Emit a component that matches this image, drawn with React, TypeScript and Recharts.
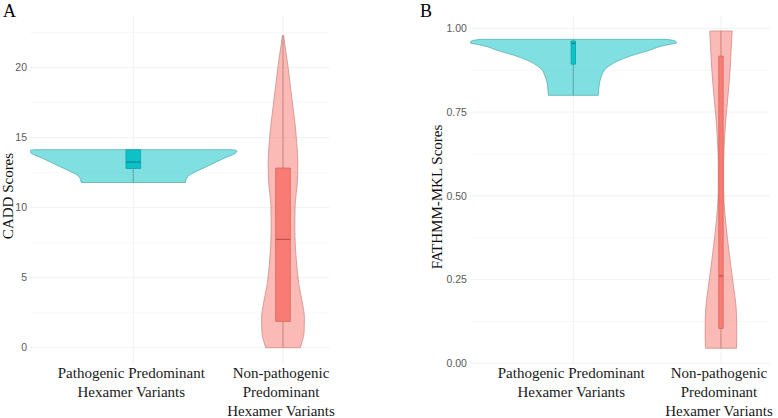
import { ComposedChart, Area, Line, XAxis, YAxis, CartesianGrid } from 'recharts';

// categories (x positions 1 and 2)
const categoryPositions = [1, 2];
const categoryLabels = [
  ['Pathogenic Predominant', 'Hexamer Variants'],
  ['Non-pathogenic', 'Predominant', 'Hexamer Variants'],
];

// violin profiles: [score, half width in category units]
const caddPathogenic = [
  [11.8, 0.349], [12.0, 0.352], [12.2, 0.362], [12.4, 0.385], [12.6, 0.423],
  [13.0, 0.502], [13.5, 0.6], [13.95, 0.688], [14.02, 0.692], [14.1, 0.685], [14.14, 0.66],
];
const caddNonPathogenic = [
  [0, 0.115], [0.43, 0.128], [1.14, 0.141], [2.1, 0.143], [3.3, 0.128], [4.5, 0.106],
  [5.9, 0.092], [7.36, 0.082], [8.8, 0.079], [10.2, 0.081], [11.7, 0.095], [13.1, 0.099],
  [14.5, 0.093], [15.9, 0.081], [17.4, 0.064], [18.8, 0.048], [20.2, 0.032], [21.6, 0.013],
  [22.3, 0.004],
];
const fathmmPathogenic = [
  [0.8, 0.169], [0.826, 0.174], [0.856, 0.19], [0.881, 0.223], [0.9, 0.29], [0.92, 0.405],
  [0.935, 0.52], [0.946, 0.59], [0.951, 0.64], [0.957, 0.7], [0.963, 0.685], [0.967, 0.63],
];
const fathmmNonPathogenic = [
  [0.045, 0.105], [0.075, 0.107], [0.114, 0.107], [0.174, 0.101], [0.234, 0.084],
  [0.293, 0.066], [0.353, 0.049], [0.413, 0.034], [0.473, 0.022], [0.532, 0.018],
  [0.592, 0.018], [0.652, 0.022], [0.711, 0.03], [0.771, 0.042], [0.831, 0.054],
  [0.89, 0.064], [0.95, 0.071], [0.992, 0.076],
];

// box stats per category: [pathogenic, non-pathogenic]
const caddMin = [11.8, 0];
const caddQ1 = [12.8, 1.88];
const caddMedian = [13.26, 7.74];
const caddQ3 = [14.14, 12.83];
const caddMax = [14.14, 22.3];

const fathmmMin = [0.8, 0.045];
const fathmmQ1 = [0.893, 0.104];
const fathmmMedian = [0.955, 0.261];
const fathmmQ3 = [0.962, 0.917];
const fathmmMax = [0.967, 0.992];

const caddTicks = [0, 5, 10, 15, 20];
const caddMinor = [2.5, 7.5, 12.5, 17.5, 22.5];
const fathmmTicks = [0, 0.25, 0.5, 0.75, 1];
const fathmmMinor = [0.125, 0.375, 0.625, 0.875];

const SERIF = "'Liberation Serif', 'Times New Roman', serif";
const SANS = "'Liberation Sans', Arial, sans-serif";

const palette = [
  { fill: '#00BFC4', edge: '#5aaeb0', box: '#0aa5a9', median: '#0d7d80', whisker: '#4f9a9c' },
  { fill: '#F8766D', edge: '#cf8e89', box: '#d8665e', median: '#a84d47', whisker: '#b97a75' },
];

const CategoryTick = (props: any) => {
  const { x, y, payload } = props;
  const lines = categoryLabels[categoryPositions.indexOf(payload.value)] || [];
  return (
    <text x={x} y={y} textAnchor="middle" fill="#1a1a1a" fontFamily={SERIF} fontSize={15}>
      {lines.map((l, i) => (
        <tspan key={i} x={x - 2} y={y + 14 + i * 19}>{l}</tspan>
      ))}
    </text>
  );
};

function ViolinPanel(props: any) {
  const { profiles, mins, q1s, medians, q3s, maxs, boxHalf, domain, xDomain, ticks, minor, fmt, margin, yWidth } = props;
  const series: any[] = [];
  const lines: any[] = [];
  profiles.forEach((prof: number[][], i: number) => {
    const c = categoryPositions[i];
    const col = palette[i];
    const violin = prof.map(([v, w]) => ({ v, x: [c - w, c + w] }));
    series.push(
      <Area key={'v' + i} data={violin} dataKey="x" type="monotone" fill={col.fill} fillOpacity={0.5}
        stroke={col.edge} strokeWidth={0.8} isAnimationActive={false} dot={false} activeDot={false} />
    );
    const first = prof[0];
    const last = prof[prof.length - 1];
    lines.push(
      <Line key={'vb' + i} data={[{ v: first[0], x: c - first[1] }, { v: first[0], x: c + first[1] }]} dataKey="x"
        stroke={col.edge} strokeWidth={0.8} dot={false} activeDot={false} isAnimationActive={false} />,
      <Line key={'vt' + i} data={[{ v: last[0], x: c - last[1] }, { v: last[0], x: c + last[1] }]} dataKey="x"
        stroke={col.edge} strokeWidth={0.8} dot={false} activeDot={false} isAnimationActive={false} />,
    );
  });
  profiles.forEach((_p: any, i: number) => {
    const c = categoryPositions[i];
    const col = palette[i];
    series.push(
      <Area key={'b' + i} data={[{ v: q1s[i], x: [c - boxHalf, c + boxHalf] }, { v: q3s[i], x: [c - boxHalf, c + boxHalf] }]}
        dataKey="x" type="linear" fill={col.fill} fillOpacity={0.9} stroke="none"
        isAnimationActive={false} dot={false} activeDot={false} />
    );
    lines.push(
      <Line key={'bo' + i} data={[
        { v: q1s[i], x: c - boxHalf }, { v: q1s[i], x: c + boxHalf }, { v: q3s[i], x: c + boxHalf },
        { v: q3s[i], x: c - boxHalf }, { v: q1s[i], x: c - boxHalf },
      ]} dataKey="x" type="linear" stroke={col.box} strokeWidth={0.8} dot={false} activeDot={false} isAnimationActive={false} />,
      <Line key={'wl' + i} data={[{ v: mins[i], x: c }, { v: q1s[i], x: c }]} dataKey="x"
        stroke={col.whisker} strokeWidth={0.8} dot={false} activeDot={false} isAnimationActive={false} />,
      <Line key={'wu' + i} data={[{ v: q3s[i], x: c }, { v: maxs[i], x: c }]} dataKey="x"
        stroke={col.whisker} strokeWidth={0.8} dot={false} activeDot={false} isAnimationActive={false} />,
      <Line key={'md' + i} data={[{ v: medians[i], x: c - boxHalf }, { v: medians[i], x: c + boxHalf }]} dataKey="x"
        stroke={col.median} strokeWidth={1} dot={false} activeDot={false} isAnimationActive={false} />,
    );
  });

  return (
    <ComposedChart width={389} height={418} layout="vertical" margin={margin}>
      <CartesianGrid horizontalValues={minor} verticalValues={[]} vertical={false} stroke="#f6f6f6" strokeWidth={0.8} />
      <CartesianGrid horizontalValues={ticks} verticalValues={categoryPositions} stroke="#eeeeee" strokeWidth={0.8} />
      <XAxis type="number" dataKey="x" domain={xDomain} allowDataOverflow ticks={categoryPositions}
        axisLine={false} tickLine={false} tickSize={0} tickMargin={0} height={54} interval={0} tick={<CategoryTick />} />
      <YAxis type="number" dataKey="v" domain={domain} allowDataOverflow reversed ticks={ticks} interval={0}
        width={yWidth} axisLine={false} tickLine={false} tickSize={0} tickMargin={3} tickFormatter={fmt}
        tick={{ fontSize: 10.5, fill: '#5a5a5a', fontFamily: SANS }} />
      {series}
      {lines}
    </ComposedChart>
  );
}

export default function App() {
  return (
    <div style={{ position: 'absolute', left: 0, top: 0, width: 778, height: 418, background: '#fff' }}>
      <div style={{ display: 'flex' }}>
        <ViolinPanel
          profiles={[caddPathogenic, caddNonPathogenic]}
          mins={caddMin} q1s={caddQ1} medians={caddMedian} q3s={caddQ3} maxs={caddMax}
          boxHalf={0.049} domain={[-1.164, 23.74]} xDomain={[0.31, 2.31]}
          ticks={caddTicks} minor={caddMinor} fmt={(v: number) => String(v)}
          margin={{ top: 15.3, right: 59.6, bottom: 0, left: 4 }} yWidth={26}
        />
        <ViolinPanel
          profiles={[fathmmPathogenic, fathmmNonPathogenic]}
          mins={fathmmMin} q1s={fathmmQ1} medians={fathmmMedian} q3s={fathmmQ3} maxs={fathmmMax}
          boxHalf={0.015} domain={[-0.0021, 1.0388]} xDomain={[0.3, 2.33]}
          ticks={fathmmTicks} minor={fathmmMinor} fmt={(v: number) => v.toFixed(2)}
          margin={{ top: 15.3, right: 8.3, bottom: 0, left: 50 }} yWidth={30.9}
        />
      </div>
      <svg width={778} height={418} style={{ position: 'absolute', left: 0, top: 0, pointerEvents: 'none' }}>
        <text x={3} y={17} fontFamily={SERIF} fontSize={18} fill="#000">A</text>
        <text x={420} y={17} fontFamily={SERIF} fontSize={18} fill="#000">B</text>
        <text x={13} y={196} transform="rotate(-90 13 196)" textAnchor="middle" fontFamily={SERIF} fontSize={15} fill="#111">CADD Scores</text>
        <text x={442} y={197} transform="rotate(-90 442 197)" textAnchor="middle" fontFamily={SERIF} fontSize={15} fill="#111">FATHMM-MKL Scores</text>
      </svg>
    </div>
  );
}
